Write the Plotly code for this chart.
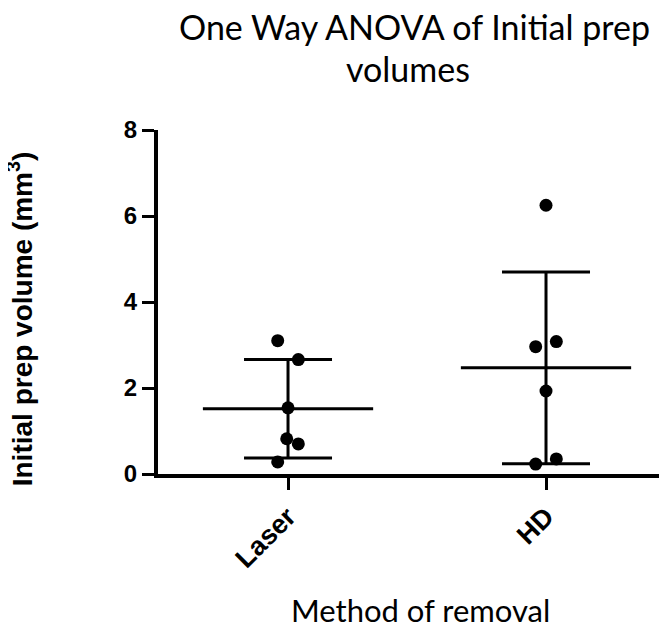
import plotly.graph_objects as go

categories = ["Laser", "HD"]
laser_values = [3.10, 2.66, 1.54, 0.82, 0.70, 0.28]
laser_jitter = [-0.04, 0.04, 0.0, -0.005, 0.04, -0.04]
hd_values = [6.25, 3.08, 2.96, 1.93, 0.35, 0.23]
hd_jitter = [0.0, 0.04, -0.04, 0.0, 0.04, -0.04]
means = [1.52, 2.47]
sds = [1.145, 2.23]
y_ticks = [0, 2, 4, 6, 8]

title_line1 = "One Way ANOVA of Initial prep"
title_line2 = "volumes"
x_title = "Method of removal"
y_title = "Initial prep volume (mm<sup>3</sup>)"

fig = go.Figure()

groups = [(laser_values, laser_jitter), (hd_values, hd_jitter)]
for i, (vals, jit) in enumerate(groups):
    fig.add_trace(go.Scatter(
        x=[i + j for j in jit], y=vals, mode="markers",
        marker=dict(color="black", size=13),
        cliponaxis=False, showlegend=False))

# SD error bars
fig.add_trace(go.Scatter(
    x=[0, 1], y=means, mode="markers",
    marker=dict(size=0.1, color="black", opacity=0),
    error_y=dict(type="data", array=sds, visible=True, color="black",
                 thickness=3, width=44),
    showlegend=False, cliponaxis=False))

# mean lines
for i, m in enumerate(means):
    fig.add_trace(go.Scatter(
        x=[i - 0.33, i + 0.33], y=[m, m], mode="lines",
        line=dict(color="black", width=3), showlegend=False, cliponaxis=False))

fig.update_layout(
    width=667, height=627,
    margin=dict(l=150, r=8, t=122, b=161),
    paper_bgcolor="white", plot_bgcolor="white",
    xaxis=dict(
        range=[-0.504, 1.469], tickmode="array", tickvals=[0, 1], ticktext=categories,
        tickangle=-45, showgrid=False, zeroline=False,
        showline=True, linecolor="black", linewidth=4,
        ticks="outside", ticklen=12, tickwidth=3, tickcolor="black",
        tickfont=dict(family="Liberation Sans", size=27, color="black", weight="bold"),
    ),
    yaxis=dict(
        range=[0, 8], tickvals=y_ticks, showgrid=False, zeroline=False,
        showline=True, linecolor="black", linewidth=4,
        ticks="outside", ticklen=12, tickwidth=3, tickcolor="black",
        tickfont=dict(family="Liberation Sans", size=24, color="black", weight="bold"),
    ),
    annotations=[
        dict(text=title_line1, xref="paper", yref="paper", x=0.503, y=1.300,
             xanchor="center", yanchor="middle", showarrow=False, borderpad=0,
             font=dict(family="Lato", size=34, color="black")),
        dict(text=title_line2, xref="paper", yref="paper", x=0.491, y=1.178,
             xanchor="center", yanchor="middle", showarrow=False, borderpad=0,
             font=dict(family="Lato", size=34, color="black")),
        dict(text=x_title, xref="paper", yref="paper", x=0.515, y=-0.396,
             xanchor="center", yanchor="middle", showarrow=False, borderpad=0,
             font=dict(family="Lato", size=31, color="black")),
        dict(text=y_title, xref="paper", yref="paper", x=-0.271, y=0.45,
             xanchor="center", yanchor="middle", showarrow=False, textangle=-90,
             borderpad=0,
             font=dict(family="Liberation Sans", size=28, color="black", weight="bold")),
    ],
)

fig.write_html("out.html")
